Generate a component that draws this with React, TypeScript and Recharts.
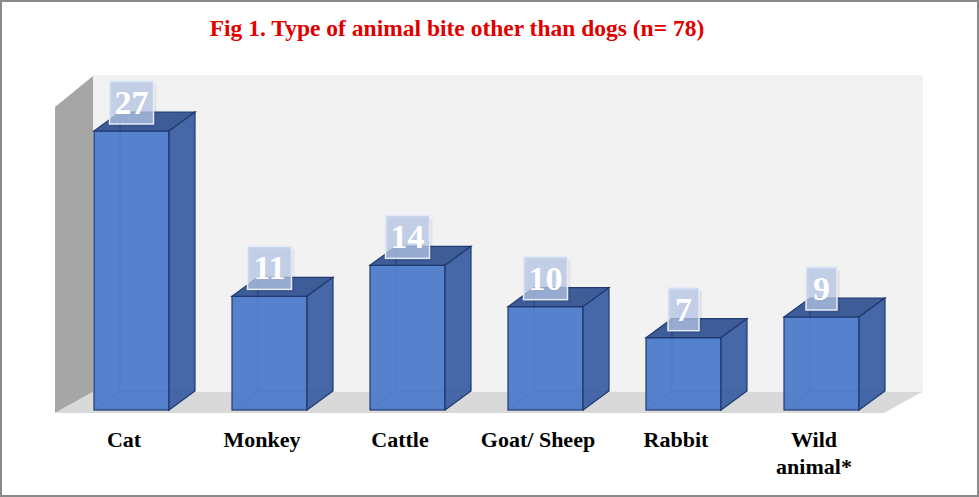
import React from 'react';
import { BarChart, Bar, XAxis, YAxis, LabelList } from 'recharts';

const categories = ['Cat', 'Monkey', 'Cattle', 'Goat/ Sheep', 'Rabbit', 'Wild animal*'];
const bites = [27, 11, 14, 10, 7, 9];

const data = categories.map((name, i) => ({ name, value: bites[i] }));

const W = 979;
const H = 497;
const DX = 26;
const DY = 19;
const SERIF = '"Liberation Serif", "Times New Roman", serif';

// 3d box for each bar
const Box = (props: any) => {
  const { x, y, width, height } = props;
  const r = x + width;
  const b = y + height;
  const edge = '#1f3a6e';
  return (
    <g>
      {/* hidden edges, seen through the glassy box */}
      <line x1={x + DX} y1={y - DY} x2={x + DX} y2={b - DY} stroke={edge} strokeOpacity={0.6} />
      <line x1={x + DX} y1={b - DY} x2={r + DX} y2={b - DY} stroke={edge} strokeOpacity={0.6} />
      <line x1={x} y1={b} x2={x + DX} y2={b - DY} stroke={edge} strokeOpacity={0.6} />
      <rect x={x} y={y} width={width} height={height} fill="#4a78c9" fillOpacity={0.93} stroke={edge} strokeWidth={1.2} />
      <polygon
        points={`${x},${y} ${x + DX},${y - DY} ${r + DX},${y - DY} ${r},${y}`}
        fill="#2f5191"
        fillOpacity={0.93}
        stroke={edge}
        strokeWidth={1.2}
      />
      <polygon
        points={`${r},${y} ${r + DX},${y - DY} ${r + DX},${b - DY} ${r},${b}`}
        fill="#3a5ea3"
        fillOpacity={0.93}
        stroke={edge}
        strokeWidth={1.2}
      />
      <line x1={x + DX} y1={y - DY} x2={x + DX} y2={y} stroke={edge} strokeOpacity={0.6} />
    </g>
  );
};

const ValueBox = (props: any) => {
  const { x, y, width, value } = props;
  const text = String(value);
  const bw = text.length > 1 ? 44 : 31;
  const bh = 43;
  const cx = x + width / 2;
  const top = y - 7 - bh;
  return (
    <g>
      <rect x={cx - bw / 2 + 3} y={top + 3} width={bw} height={bh} fill="#000" fillOpacity={0.06} />
      <rect x={cx - bw / 2} y={top} width={bw} height={bh} fill="#b7c7e6" fillOpacity={0.75} stroke="#e4ebf7" strokeWidth={1.5} />
      <text x={cx} y={top + 33} textAnchor="middle" fill="#ffffff" fontFamily="Liberation Serif" fontWeight={700} fontSize={34}>
        {text}
      </text>
    </g>
  );
};

const CategoryTick = (props: any) => {
  const { x, y, payload } = props;
  const label: string = payload.value;
  const lines = label === 'Wild animal*' ? ['Wild', 'animal*'] : [label];
  return (
    <text x={x - 7} y={y + 29} textAnchor="middle" fill="#000" fontFamily="Liberation Serif" fontWeight={700} fontSize={22}>
      {lines.map((l, i) => (
        <tspan key={l} x={x - 7} dy={i === 0 ? 0 : 27}>
          {l}
        </tspan>
      ))}
    </text>
  );
};

// back wall, side wall and floor of the 3d plot box
const Room = () => (
  <svg width={W} height={H} style={{ position: 'absolute', left: 0, top: 0 }}>
    <rect x={93} y={76} width={829} height={316} fill="#f2f2f2" stroke="#ececec" />
    <polygon points="55,107 93,76 93,392 55,413" fill="#a6a6a6" />
    <polygon points="55,413 93,392 922,392 884,413" fill="#d9d9d9" />
  </svg>
);

export default function App() {
  return (
    <div
      style={{
        position: 'absolute',
        left: 0,
        top: 0,
        width: W,
        height: H,
        background: '#fff',
        border: '2px solid #8a8a8a',
        boxSizing: 'border-box',
        overflow: 'hidden',
      }}
    >
      <div style={{ position: 'absolute', left: -2, top: -2, width: W, height: H }}>
        <Room />
        <div
          style={{
            position: 'absolute',
            left: 0,
            top: 15,
            width: 914,
            textAlign: 'center',
            color: '#e00000',
            fontFamily: SERIF,
            fontWeight: 'bold',
            fontSize: 23.5,
          }}
        >
          Fig 1. Type of animal bite other than dogs (n= 78)
        </div>
        <div style={{ position: 'absolute', left: 0, top: 0 }}>
          <BarChart width={W} height={H} data={data} margin={{ top: 100, right: 89, bottom: 0, left: 62 }}>
            <XAxis dataKey="name" axisLine={false} tickLine={false} tick={<CategoryTick />} interval={0} height={87} />
            <YAxis hide domain={[0, 30]} width={0} />
            <Bar dataKey="value" barSize={75} shape={<Box />} isAnimationActive={false}>
              <LabelList dataKey="value" content={<ValueBox />} />
            </Bar>
          </BarChart>
        </div>
      </div>
    </div>
  );
}
